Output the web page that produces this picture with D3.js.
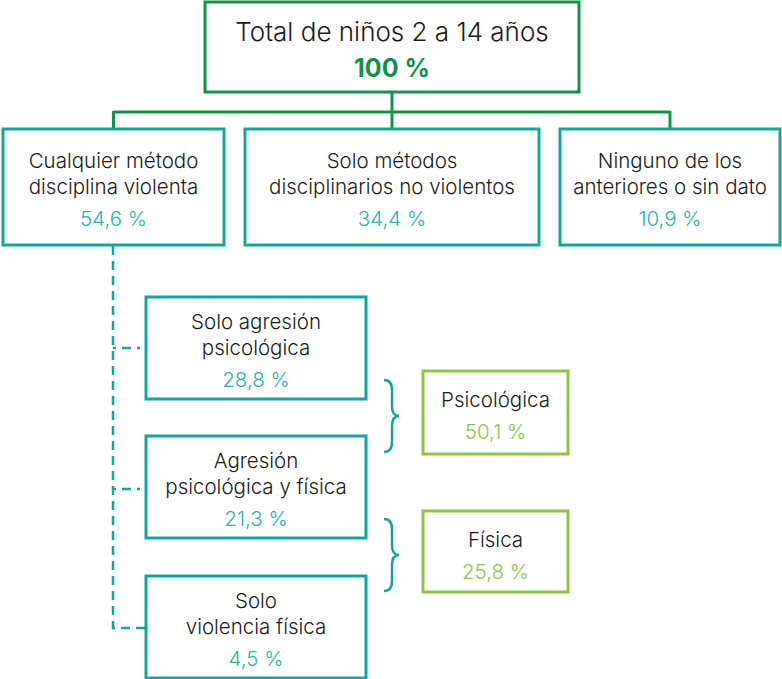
<!DOCTYPE html>
<html>
<head>
<meta charset="utf-8">
<script src="https://cdn.jsdelivr.net/npm/d3@7"></script>
<style>
  body { margin: 0; background: #fff; }
  text { font-family: Inter, Roboto, "Liberation Sans", sans-serif; }
</style>
</head>
<body>
<svg id="chart" width="782" height="679"></svg>
<script>
// data
const totalLabel = ['Total de niños 2 a 14 años'];
const totalValue = 100;
const level1Labels = [
  ['Cualquier método', 'disciplina violenta'],
  ['Solo métodos', 'disciplinarios no violentos'],
  ['Ninguno de los', 'anteriores o sin dato']
];
const level1Values = [54.6, 34.4, 10.9];
const level2Labels = [
  ['Solo agresión', 'psicológica'],
  ['Agresión', 'psicológica y física'],
  ['Solo', 'violencia física']
];
const level2Values = [28.8, 21.3, 4.5];
const groupLabels = [['Psicológica'], ['Física']];
const groupValues = [50.1, 25.8];

const darkGreen = '#0f9447';
const teal = '#10a89a';
const tealText = '#2ab3a6';
const lightGreen = '#8cc63f';
const ink = '#1a1a1a';

const fmt = v => d3.format('.1f')(v).replace('.', ',') + ' %';

const svg = d3.select('#chart');

// draw one box with its label lines and value
function box(x, y, w, h, lines, value, opt) {
  const g = svg.append('g').attr('transform', `translate(${x},${y})`);
  g.append('rect')
    .attr('x', 0).attr('y', 0)
    .attr('width', w).attr('height', h)
    .attr('fill', '#fff')
    .attr('stroke', opt.stroke)
    .attr('stroke-width', 3);
  lines.forEach((t, i) => {
    g.append('text')
      .attr('x', w / 2)
      .attr('y', opt.first + i * opt.lh)
      .attr('text-anchor', 'middle')
      .attr('fill', ink)
      .style('font-size', opt.size + 'px')
      .style('font-weight', 300)
      .text(t);
  });
  g.append('text')
    .attr('x', w / 2)
    .attr('y', opt.first + lines.length * opt.lh + (opt.gap || 4))
    .attr('text-anchor', 'middle')
    .attr('fill', opt.valueColor)
    .style('font-size', (opt.vsize || opt.size) + 'px')
    .style('font-weight', opt.vweight || 300)
    .text(value);
}

// connectors from the total to level 1
const l1x = [3, 245, 560];
const l1w = [221, 294, 220];
const centers = l1x.map((x, i) => x + l1w[i] / 2);
svg.append('line')
  .attr('x1', 392).attr('x2', 392).attr('y1', 90).attr('y2', 112)
  .attr('stroke', darkGreen).attr('stroke-width', 3);
svg.append('line')
  .attr('x1', centers[0]).attr('x2', centers[2]).attr('y1', 112).attr('y2', 112)
  .attr('stroke', darkGreen).attr('stroke-width', 3);
centers.forEach(cx => {
  svg.append('line')
    .attr('x1', cx).attr('x2', cx).attr('y1', 111).attr('y2', 130)
    .attr('stroke', darkGreen).attr('stroke-width', 3);
});

// dashed connector to level 2
const l2y = [297, 436, 576];
const l2mid = [348, 489, 628];
svg.append('path')
  .attr('d', `M113,246 V${l2mid[2]} H145`)
  .attr('fill', 'none')
  .attr('stroke', teal).attr('stroke-width', 2.5)
  .attr('stroke-dasharray', '9,6');
l2mid.slice(0, 2).forEach(y => {
  svg.append('path')
    .attr('d', `M113,${y} H145`)
    .attr('fill', 'none')
    .attr('stroke', teal).attr('stroke-width', 2.5)
    .attr('stroke-dasharray', '3,6,9,6');
});

// total box
box(205, 2, 374, 90, totalLabel, totalValue + ' %', {
  stroke: darkGreen, first: 39, lh: 30, size: 26, gap: 6,
  valueColor: darkGreen, vweight: 700, vsize: 25
});

// level 1
level1Labels.forEach((lines, i) => {
  box(l1x[i], 129, l1w[i], 116, lines, fmt(level1Values[i]), {
    stroke: teal, first: 39, lh: 26, size: 20.5, gap: 6, valueColor: tealText
  });
});

// level 2
level2Labels.forEach((lines, i) => {
  box(146, l2y[i], 220, 102, lines, fmt(level2Values[i]), {
    stroke: teal, first: 32, lh: 26, size: 20.5, gap: 6, valueColor: tealText
  });
});

// braces and groups
const gy = [371, 511];
const braceTop = [380, 519];
gy.forEach((y, i) => {
  const t = braceTop[i], b = t + 72, m = (t + b) / 2, x0 = 384, x1 = 392, x2 = 399;
  svg.append('path')
    .attr('d', `M${x0},${t} Q${x1},${t} ${x1},${t + 10} V${m - 10} Q${x1},${m} ${x2},${m} Q${x1},${m} ${x1},${m + 10} V${b - 10} Q${x1},${b} ${x0},${b}`)
    .attr('fill', 'none')
    .attr('stroke', teal).attr('stroke-width', 2.5);
  box(423, y, 145, i === 0 ? 83 : 81, groupLabels[i], fmt(groupValues[i]), {
    stroke: lightGreen, first: 36, lh: 26, size: 20.5, gap: 6, valueColor: lightGreen
  });
});
</script>
</body>
</html>
